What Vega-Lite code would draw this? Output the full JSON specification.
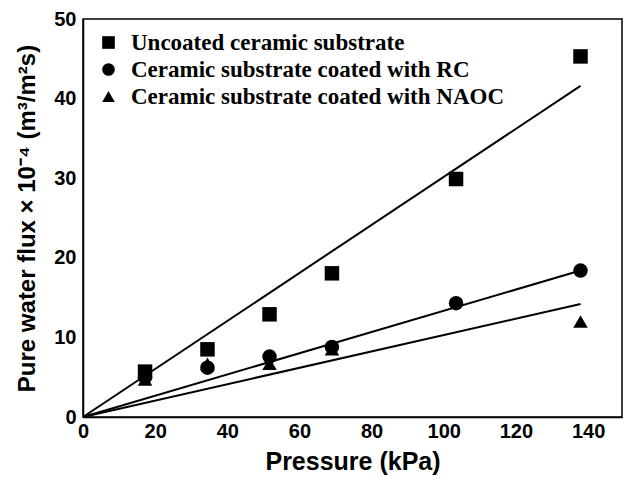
{
  "$schema": "https://vega.github.io/schema/vega-lite/v6.json",
  "width": 539,
  "height": 398,
  "autosize": {"type": "none"},
  "padding": {"left": 83, "top": 19, "right": 3, "bottom": 62},
  "background": "white",
  "config": {
    "view": {"stroke": "black", "strokeWidth": 1.5},
    "axis": {
      "labelFont": "Liberation Sans",
      "labelFontWeight": "bold",
      "labelFontSize": 20,
      "labelColor": "black",
      "titleFont": "Liberation Sans",
      "titleFontWeight": "bold",
      "titleColor": "black",
      "domainColor": "black",
      "domainWidth": 1.5,
      "ticks": false,
      "grid": false
    },
    "legend": {
      "labelFont": "Liberation Serif",
      "labelFontWeight": "bold",
      "labelFontSize": 23,
      "labelColor": "black",
      "labelLimit": 600
    }
  },
  "datasets": {
    "pts": [
      {"p": 17.2, "flux": 5.7, "series": "Uncoated ceramic substrate"},
      {"p": 34.5, "flux": 8.5, "series": "Uncoated ceramic substrate"},
      {"p": 51.7, "flux": 12.9, "series": "Uncoated ceramic substrate"},
      {"p": 69.0, "flux": 18.05, "series": "Uncoated ceramic substrate"},
      {"p": 103.4, "flux": 29.9, "series": "Uncoated ceramic substrate"},
      {"p": 137.9, "flux": 45.3, "series": "Uncoated ceramic substrate"},
      {"p": 17.2, "flux": 5.0, "series": "Ceramic substrate coated with RC"},
      {"p": 34.5, "flux": 6.2, "series": "Ceramic substrate coated with RC"},
      {"p": 51.7, "flux": 7.6, "series": "Ceramic substrate coated with RC"},
      {"p": 69.0, "flux": 8.8, "series": "Ceramic substrate coated with RC"},
      {"p": 103.4, "flux": 14.3, "series": "Ceramic substrate coated with RC"},
      {"p": 137.9, "flux": 18.4, "series": "Ceramic substrate coated with RC"},
      {"p": 17.2, "flux": 4.7, "series": "Ceramic substrate coated with NAOC"},
      {"p": 34.5, "flux": 6.7, "series": "Ceramic substrate coated with NAOC"},
      {"p": 51.7, "flux": 6.7, "series": "Ceramic substrate coated with NAOC"},
      {"p": 69.0, "flux": 8.5, "series": "Ceramic substrate coated with NAOC"},
      {"p": 137.9, "flux": 12.0, "series": "Ceramic substrate coated with NAOC"}
    ],
    "fits": [
      {"p": 0, "flux": 0, "fit": "U"},
      {"p": 137.9, "flux": 41.6, "fit": "U"},
      {"p": 0, "flux": 0, "fit": "RC"},
      {"p": 137.9, "flux": 18.4, "fit": "RC"},
      {"p": 0, "flux": 0, "fit": "NAOC"},
      {"p": 137.9, "flux": 14.2, "fit": "NAOC"}
    ]
  },
  "encoding": {
    "x": {
      "field": "p", "type": "quantitative",
      "scale": {"domain": [0, 149.4], "nice": false},
      "axis": {"values": [0, 20, 40, 60, 80, 100, 120, 140], "title": "Pressure (kPa)", "titleFontSize": 25, "labelPadding": 4, "titlePadding": 8, "labelFlush": false}
    },
    "y": {
      "field": "flux", "type": "quantitative",
      "scale": {"domain": [0, 50], "nice": false},
      "axis": {"values": [0, 10, 20, 30, 40, 50], "title": "Pure water flux × 10⁻⁴ (m³/m²s)", "titleFontSize": 24, "labelPadding": 7, "titlePadding": 14, "labelFlush": false}
    }
  },
  "layer": [
    {
      "data": {"name": "fits"},
      "mark": {"type": "line", "color": "black", "strokeWidth": 2},
      "encoding": {"detail": {"field": "fit", "type": "nominal"}}
    },
    {
      "data": {"name": "pts"},
      "mark": {"type": "point", "filled": true, "opacity": 1, "color": "black", "size": 210},
      "encoding": {
        "shape": {
          "field": "series", "type": "nominal",
          "scale": {
            "domain": ["Uncoated ceramic substrate", "Ceramic substrate coated with RC", "Ceramic substrate coated with NAOC"],
            "range": ["square", "circle", "triangle-up"]
          },
          "legend": {
            "title": null,
            "orient": "none",
            "legendX": 14,
            "legendY": 12,
            "symbolSize": 160,
            "symbolFillColor": "black",
            "symbolStrokeColor": "black",
            "symbolOpacity": 1,
            "rowPadding": 3,
            "labelOffset": 11
          }
        }
      }
    }
  ]
}
